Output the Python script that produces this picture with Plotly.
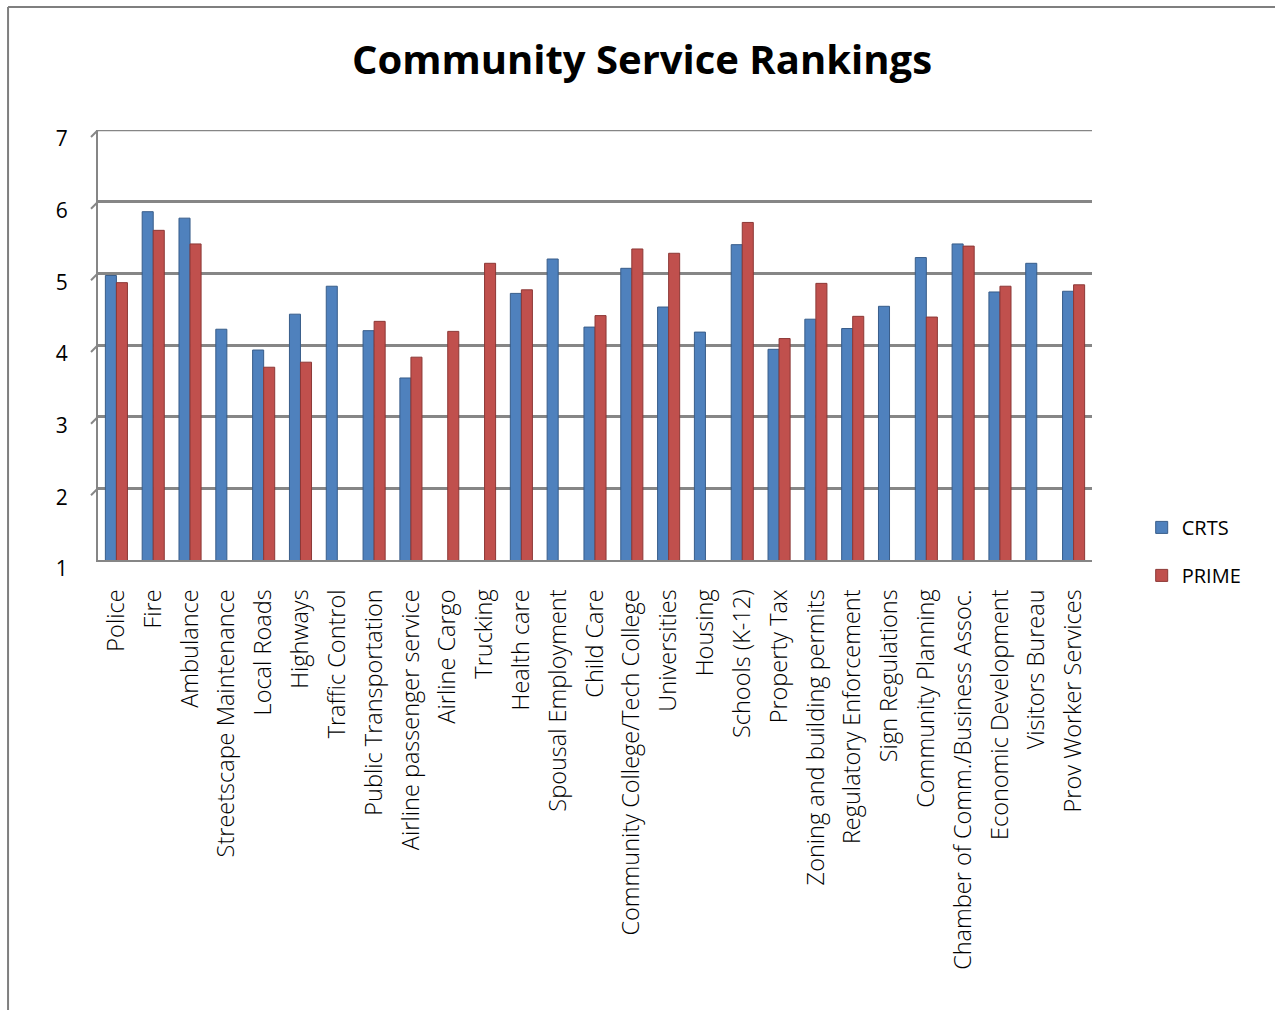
import plotly.graph_objects as go

categories = [
    "Police", "Fire", "Ambulance", "Streetscape Maintenance", "Local Roads",
    "Highways", "Traffic Control", "Public Transportation",
    "Airline passenger service", "Airline Cargo", "Trucking", "Health care",
    "Spousal Employment", "Child Care", "Community College/Tech College",
    "Universities", "Housing", "Schools (K-12)", "Property Tax",
    "Zoning and building permits", "Regulatory Enforcement",
    "Sign Regulations", "Community Planning", "Chamber of Comm./Business Assoc.",
    "Economic Development", "Visitors Bureau", "Prov Worker Services",
]

crts = [
    4.97, 5.86, 5.77, 4.22, 3.93, 4.43, 4.82, 4.20, 3.54, None, None, 4.72,
    5.20, 4.25, 5.07, 4.53, 4.18, 5.40, 3.94, 4.36, 4.23, 4.54, 5.22, 5.41,
    4.74, 5.14, 4.75,
]

prime = [
    4.87, 5.60, 5.41, None, 3.69, 3.76, None, 4.33, 3.83, 4.19, 5.14, 4.77,
    None, 4.41, 5.34, 5.28, None, 5.71, 4.09, 4.86, 4.40, None, 4.39, 5.38,
    4.82, None, 4.84,
]

y_ticks = [1, 2, 3, 4, 5, 6, 7]

GRID = "#868686"
FONT = "Open Sans"

fig = go.Figure()
fig.add_trace(go.Bar(
    name="CRTS", x=categories, y=crts, legendgroup="a",
    marker=dict(color="#4F81BD", line=dict(color="#385D8A", width=1)),
))
fig.add_trace(go.Bar(
    name="PRIME", x=categories, y=prime, legendgroup="b",
    marker=dict(color="#C0504D", line=dict(color="#8C3836", width=1)),
))

# outer chart frame (top and left edges)
fig.add_shape(type="line", xref="paper", yref="paper",
              x0=-0.0905, x1=1.2, y0=1.286, y1=1.286,
              line=dict(color="#7f7f7f", width=2))
fig.add_shape(type="line", xref="paper", yref="paper",
              x0=-0.0905, x1=-0.0905, y0=1.286, y1=-1.1,
              line=dict(color="#7f7f7f", width=2))

# top gridline at the end of the value range
fig.add_shape(type="line", xref="paper", yref="y",
              x0=0, x1=1, y0=y_ticks[-1], y1=y_ticks[-1],
              line=dict(color=GRID, width=2.5))

# slanted wall ticks on the left edge (pseudo-3D floor depth)
dx = 7 / 994
dy = 7 / (430 / 6)
for v in y_ticks:
    fig.add_shape(type="line", xref="paper", yref="y",
                  x0=0, x1=-dx, y0=v, y1=v - dy,
                  line=dict(color=GRID, width=2))

fig.update_layout(
    width=1275, height=1010,
    margin=dict(l=98, r=183, t=130, b=450),
    paper_bgcolor="white", plot_bgcolor="white",
    barmode="group", bargap=0.40, bargroupgap=0.0,
    title=dict(text="<b>Community Service Rankings</b>",
               x=0.5035, xanchor="center", y=0.941, yanchor="middle",
               font=dict(family=FONT, size=40, color="black")),
    font=dict(family=FONT, color="black"),
    showlegend=True,
    legend=dict(x=1.05, xanchor="left", y=0.02, yanchor="middle",
                traceorder="grouped", tracegroupgap=19,
                font=dict(family=FONT, size=20, color="black"),
                bgcolor="rgba(0,0,0,0)"),
    xaxis=dict(
        tickangle=-90,
        tickfont=dict(family=FONT, size=23.5, color="black", weight=300),
        showline=True, linecolor=GRID, linewidth=2,
        ticklabelstandoff=18, showgrid=False,
    ),
    yaxis=dict(
        range=[1, 7], tickvals=y_ticks, ticktext=[str(v) for v in y_ticks],
        tickfont=dict(family=FONT, size=21, color="black"),
        showgrid=True, gridcolor=GRID, gridwidth=2.5,
        showline=True, linecolor=GRID, linewidth=2,
        ticks="", ticklabelstandoff=24, ticklabelshift=9,
        zeroline=False,
    ),
)

fig.write_html("out.html")
